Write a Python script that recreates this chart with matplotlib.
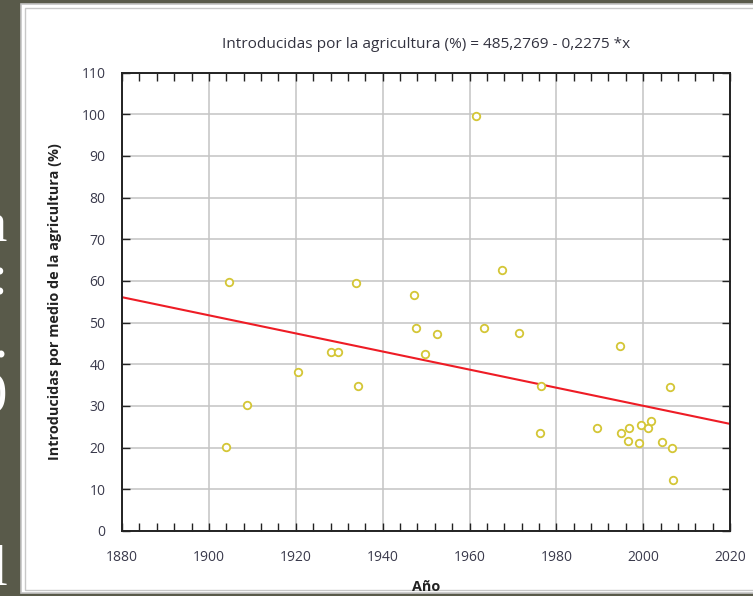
import matplotlib
matplotlib.use("Agg")
import matplotlib.pyplot as plt
from matplotlib.patches import Rectangle
from matplotlib.ticker import MultipleLocator

# ---- data ----
years = [1904.7, 1903.9, 1908.8, 1920.6, 1928.2, 1929.6, 1933.8, 1934.4,
         1947.1, 1947.7, 1949.8, 1952.4, 1961.6, 1963.3, 1967.4, 1971.5,
         1976.5, 1976.2, 1989.3, 1994.6, 2006.2, 1994.8, 1996.7, 1996.4,
         1999.5, 1999.1, 2001.2, 2001.9, 2004.3, 2006.6, 2006.9]
values = [59.7, 20.1, 30.2, 38.1, 42.9, 43.0, 59.5, 34.7,
          56.6, 48.8, 42.5, 47.3, 99.6, 48.6, 62.6, 47.4,
          34.8, 23.5, 24.6, 44.4, 34.5, 23.4, 24.6, 21.6,
          25.4, 21.0, 24.8, 26.5, 21.4, 20.0, 12.2]
fit_years = [1880, 2020]
fit_values = [56.1, 25.7]

title = "Introducidas por la agricultura (%) = 485,2769 - 0,2275 *x"
ylabel = "Introducidas por medio de la agricultura (%)"
xlabel = "Año"
side_chars = ["a", ":", ".", "0", "l"]
side_baselines = [242, 295, 357, 412, 585]

W, H = 753, 596
fig = plt.figure(figsize=(W / 100, H / 100), dpi=100)
fig.patch.set_facecolor("#595a4a")

# side text fragments (from slide behind)
for ch, bl in zip(side_chars, side_baselines):
    fig.text(7.5 / W, 1 - bl / H, ch, ha="right", va="baseline", color="white",
             family="Liberation Serif", fontsize=41, zorder=-3)

# white panel with double border
fig.patches.append(Rectangle((21 / W, 3 / H), (W - 21 + 10) / W, (592 - 3) / H,
                             transform=fig.transFigure, facecolor="white",
                             edgecolor="#c4c4c4", lw=1.2, zorder=-2))
fig.patches.append(Rectangle((24.5 / W, 6 / H), (W - 24.5 + 10) / W, (588.5 - 6) / H,
                             transform=fig.transFigure, facecolor="none",
                             edgecolor="#c8c8c8", lw=1.0, zorder=-2))

l, r = 122.1 / W, 730.1 / W
b, t = 1 - 531 / H, 1 - 72.6 / H
ax = fig.add_axes([l, b, r - l, t - b])
ax.set_zorder(1)
ax.set_facecolor("white")

ax.set_xlim(1880, 2020)
ax.set_ylim(0, 110)
ax.xaxis.set_major_locator(MultipleLocator(20))
ax.xaxis.set_minor_locator(MultipleLocator(4))
ax.yaxis.set_major_locator(MultipleLocator(10))
ax.grid(True, which="major", color="#c4c4c4", lw=1.1, zorder=0)
ax.set_axisbelow(True)

ax.plot(fit_years, fit_values, color="#ee1c25", lw=1.5, zorder=2)
ax.plot(years, values, ls="none", marker="o", ms=5.4, mfc="white",
        mec="#d4c636", mew=1.3, zorder=3)

for s in ax.spines.values():
    s.set_linewidth(1.4)
    s.set_color("#222222")

ax.tick_params(axis="both", which="both", direction="in", top=True, right=True,
               width=1.0, color="#222222", labelcolor="#3a3a4c",
               labelsize=10)
ax.tick_params(axis="x", which="both", length=6, pad=14)
ax.tick_params(axis="y", which="major", length=6, pad=12)
for lab in ax.get_xticklabels() + ax.get_yticklabels():
    lab.set_family("Open Sans")

fig.text((l + r) / 2, 1 - 45 / H, title, ha="center", va="center",
         family="Open Sans", fontsize=11.1, color="#333340")
fig.text(55 / W, (b + t) / 2, ylabel, rotation=90, ha="center", va="center",
         family="Open Sans", fontweight="bold", fontsize=10.4, color="#222222")
fig.text((l + r) / 2, 1 - 587 / H, xlabel, ha="center", va="center",
         family="Open Sans", fontweight="bold", fontsize=10.4, color="#222222")

fig.savefig("out.png", dpi=100, facecolor=fig.get_facecolor())
